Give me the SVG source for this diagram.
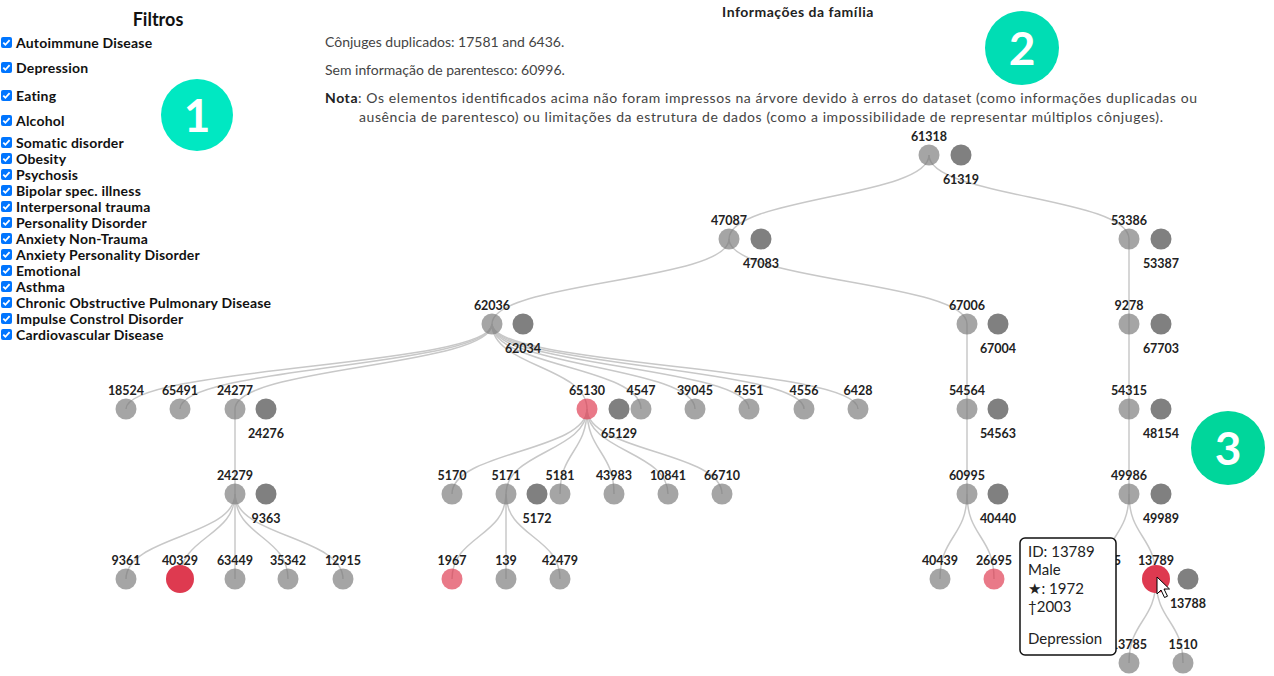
<svg xmlns="http://www.w3.org/2000/svg" xmlns:xlink="http://www.w3.org/1999/xlink" width="1274" height="676" viewBox="0 0 1274 676">
<style>
.t{font-family:Lato,"Liberation Sans",sans-serif}
.ft{font-family:Lato,"Liberation Sans",sans-serif;font-size:14px;font-weight:700;fill:#111;letter-spacing:.2px}
.hd{font-family:Lato,"Liberation Sans",sans-serif;font-size:14px;fill:#444}
.n{fill:#7b7b7b;fill-opacity:.68}
.s{fill:#808080}
.r{fill:#de3a50}
.rl{fill:#de3a50;fill-opacity:.68}
.lbl{font-family:Lato,"Liberation Sans",sans-serif;font-size:12.5px;font-weight:700;fill:#222;text-anchor:middle}
.link{fill:none;stroke:#c8c8c8;stroke-width:1.5}
.bd{font-family:Lato,"Liberation Sans",sans-serif;font-size:46px;font-weight:700;fill:#fff;text-anchor:middle}
.tt{font-family:Lato,"Liberation Sans","DejaVu Sans",sans-serif;font-size:15px;fill:#222}
</style>
<defs>
<g id="cb"><rect x="1" y="0" width="11" height="11" rx="2" fill="#0075ff"/><path d="M3.3,5.6 L5.4,7.8 L9.6,3.2" fill="none" stroke="#fff" stroke-width="1.8"/></g>
</defs>
<rect width="1274" height="676" fill="#fff"/>

<g id="filters">
<text class="t" x="158" y="26" font-size="18" font-weight="700" fill="#111" text-anchor="middle">Filtros</text>
<use href="#cb" y="37"/><text class="ft" x="16" y="48">Autoimmune Disease</text>
<use href="#cb" y="62"/><text class="ft" x="16" y="73">Depression</text>
<use href="#cb" y="90"/><text class="ft" x="16" y="101">Eating</text>
<use href="#cb" y="115"/><text class="ft" x="16" y="126">Alcohol</text>
<use href="#cb" y="137"/><text class="ft" x="16" y="148">Somatic disorder</text>
<use href="#cb" y="153"/><text class="ft" x="16" y="164">Obesity</text>
<use href="#cb" y="169"/><text class="ft" x="16" y="180">Psychosis</text>
<use href="#cb" y="185"/><text class="ft" x="16" y="196">Bipolar spec. illness</text>
<use href="#cb" y="201"/><text class="ft" x="16" y="212">Interpersonal trauma</text>
<use href="#cb" y="217"/><text class="ft" x="16" y="228">Personality Disorder</text>
<use href="#cb" y="233"/><text class="ft" x="16" y="244">Anxiety Non-Trauma</text>
<use href="#cb" y="249"/><text class="ft" x="16" y="260">Anxiety Personality Disorder</text>
<use href="#cb" y="265"/><text class="ft" x="16" y="276">Emotional</text>
<use href="#cb" y="281"/><text class="ft" x="16" y="292">Asthma</text>
<use href="#cb" y="297"/><text class="ft" x="16" y="308">Chronic Obstructive Pulmonary Disease</text>
<use href="#cb" y="313"/><text class="ft" x="16" y="324">Impulse Constrol Disorder</text>
<use href="#cb" y="329"/><text class="ft" x="16" y="340">Cardiovascular Disease</text>
</g>

<g id="info">
<text class="t" x="798" y="17" font-size="14" font-weight="700" fill="#222" text-anchor="middle" letter-spacing=".5">Informações da família</text>
<text class="hd" x="325" y="47">Cônjuges duplicados: 17581 and 6436.</text>
<text class="hd" x="325" y="75">Sem informação de parentesco: 60996.</text>
<text class="hd" x="761" y="103" text-anchor="middle" textLength="872"><tspan font-weight="700" fill="#222">Nota</tspan>: Os elementos identificados acima não foram impressos na árvore devido à erros do dataset (como informações duplicadas ou</text>
<text class="hd" x="761" y="122" text-anchor="middle" textLength="804">ausência de parentesco) ou limitações da estrutura de dados (como a impossibilidade de representar múltiplos cônjuges).</text>
</g>

<g id="badges">
<circle cx="197" cy="115" r="36" fill="#00e8c2"/><text class="bd" x="197" y="132">1</text>
<circle cx="1022" cy="48" r="37" fill="#00ddb4"/><text class="bd" x="1022" y="65">2</text>
<circle cx="1228" cy="448" r="37" fill="#00d69b"/><text class="bd" x="1228" y="465">3</text>
</g>

<g id="links">
<path class="link" d="M929,155C929,197 729,197 729,239"/>
<path class="link" d="M929,155C929,197 1129,197 1129,239"/>
<path class="link" d="M729,239C729,281.5 492,281.5 492,324"/>
<path class="link" d="M729,239C729,281.5 967,281.5 967,324"/>
<path class="link" d="M1129,239L1129,324"/>
<path class="link" d="M492,324C492,366.5 126,366.5 126,409"/>
<path class="link" d="M492,324C492,366.5 180,366.5 180,409"/>
<path class="link" d="M492,324C492,366.5 235,366.5 235,409"/>
<path class="link" d="M492,324C492,366.5 587,366.5 587,409"/>
<path class="link" d="M492,324C492,366.5 641,366.5 641,409"/>
<path class="link" d="M492,324C492,366.5 695,366.5 695,409"/>
<path class="link" d="M492,324C492,366.5 749,366.5 749,409"/>
<path class="link" d="M492,324C492,366.5 804,366.5 804,409"/>
<path class="link" d="M492,324C492,366.5 858,366.5 858,409"/>
<path class="link" d="M235,409L235,494"/>
<path class="link" d="M235,494C235,536.5 126,536.5 126,579"/>
<path class="link" d="M235,494C235,536.5 180,536.5 180,579"/>
<path class="link" d="M235,494L235,579"/>
<path class="link" d="M235,494C235,536.5 288,536.5 288,579"/>
<path class="link" d="M235,494C235,536.5 343,536.5 343,579"/>
<path class="link" d="M587,409C587,451.5 452,451.5 452,494"/>
<path class="link" d="M587,409C587,451.5 506,451.5 506,494"/>
<path class="link" d="M587,409C587,451.5 560,451.5 560,494"/>
<path class="link" d="M587,409C587,451.5 614,451.5 614,494"/>
<path class="link" d="M587,409C587,451.5 668,451.5 668,494"/>
<path class="link" d="M587,409C587,451.5 722,451.5 722,494"/>
<path class="link" d="M506,494C506,536.5 452,536.5 452,579"/>
<path class="link" d="M506,494L506,579"/>
<path class="link" d="M506,494C506,536.5 560,536.5 560,579"/>
<path class="link" d="M967,324L967,409"/>
<path class="link" d="M967,409L967,494"/>
<path class="link" d="M967,494C967,536.5 940,536.5 940,579"/>
<path class="link" d="M967,494C967,536.5 994,536.5 994,579"/>
<path class="link" d="M1129,324L1129,409"/>
<path class="link" d="M1129,409L1129,494"/>
<path class="link" d="M1129,494C1129,536.5 1102,536.5 1102,579"/>
<path class="link" d="M1129,494C1129,536.5 1156,536.5 1156,579"/>
<path class="link" d="M1156,579C1156,621 1129,621 1129,663"/>
<path class="link" d="M1156,579C1156,621 1183,621 1183,663"/>
</g>

<g id="nodes">
<g id="n61318"><circle class="n" cx="929" cy="155" r="10.5"/><text class="lbl" x="929" y="141">61318</text></g>
<g id="n61319"><circle class="s" cx="961" cy="155" r="10.5"/><text class="lbl" x="961" y="184">61319</text></g>
<g id="n47087"><circle class="n" cx="729" cy="239" r="10.5"/><text class="lbl" x="729" y="225">47087</text></g>
<g id="n47083"><circle class="s" cx="761" cy="239" r="10.5"/><text class="lbl" x="761" y="268">47083</text></g>
<g id="n53386"><circle class="n" cx="1129" cy="239" r="10.5"/><text class="lbl" x="1129" y="225">53386</text></g>
<g id="n53387"><circle class="s" cx="1161" cy="239" r="10.5"/><text class="lbl" x="1161" y="268">53387</text></g>
<g id="n62036"><circle class="n" cx="492" cy="324" r="10.5"/><text class="lbl" x="492" y="310">62036</text></g>
<g id="n62034"><circle class="s" cx="523" cy="324" r="10.5"/><text class="lbl" x="523" y="353">62034</text></g>
<g id="n67006"><circle class="n" cx="967" cy="324" r="10.5"/><text class="lbl" x="967" y="310">67006</text></g>
<g id="n67004"><circle class="s" cx="998" cy="324" r="10.5"/><text class="lbl" x="998" y="353">67004</text></g>
<g id="n9278"><circle class="n" cx="1129" cy="324" r="10.5"/><text class="lbl" x="1129" y="310">9278</text></g>
<g id="n67703"><circle class="s" cx="1161" cy="324" r="10.5"/><text class="lbl" x="1161" y="353">67703</text></g>

<g id="n18524"><circle class="n" cx="126" cy="409" r="10.5"/><text class="lbl" x="126" y="395">18524</text></g>
<g id="n65491"><circle class="n" cx="180" cy="409" r="10.5"/><text class="lbl" x="180" y="395">65491</text></g>
<g id="n24277"><circle class="n" cx="235" cy="409" r="10.5"/><text class="lbl" x="235" y="395">24277</text></g>
<g id="n24276"><circle class="s" cx="266" cy="409" r="10.5"/><text class="lbl" x="266" y="438">24276</text></g>
<g id="n65130"><circle class="rl" cx="587" cy="409" r="10.5"/><text class="lbl" x="587" y="395">65130</text></g>
<g id="n65129"><circle class="s" cx="619" cy="409" r="10.5"/><text class="lbl" x="619" y="438">65129</text></g>
<g id="n4547"><circle class="n" cx="641" cy="409" r="10.5"/><text class="lbl" x="641" y="395">4547</text></g>
<g id="n39045"><circle class="n" cx="695" cy="409" r="10.5"/><text class="lbl" x="695" y="395">39045</text></g>
<g id="n4551"><circle class="n" cx="749" cy="409" r="10.5"/><text class="lbl" x="749" y="395">4551</text></g>
<g id="n4556"><circle class="n" cx="804" cy="409" r="10.5"/><text class="lbl" x="804" y="395">4556</text></g>
<g id="n6428"><circle class="n" cx="858" cy="409" r="10.5"/><text class="lbl" x="858" y="395">6428</text></g>
<g id="n54564"><circle class="n" cx="967" cy="409" r="10.5"/><text class="lbl" x="967" y="395">54564</text></g>
<g id="n54563"><circle class="s" cx="998" cy="409" r="10.5"/><text class="lbl" x="998" y="438">54563</text></g>
<g id="n54315"><circle class="n" cx="1129" cy="409" r="10.5"/><text class="lbl" x="1129" y="395">54315</text></g>
<g id="n48154"><circle class="s" cx="1161" cy="409" r="10.5"/><text class="lbl" x="1161" y="438">48154</text></g>

<g id="n24279"><circle class="n" cx="235" cy="494" r="10.5"/><text class="lbl" x="235" y="480">24279</text></g>
<g id="n9363"><circle class="s" cx="266" cy="494" r="10.5"/><text class="lbl" x="266" y="523">9363</text></g>
<g id="n5170"><circle class="n" cx="452" cy="494" r="10.5"/><text class="lbl" x="452" y="480">5170</text></g>
<g id="n5171"><circle class="n" cx="506" cy="494" r="10.5"/><text class="lbl" x="506" y="480">5171</text></g>
<g id="n5172"><circle class="s" cx="537" cy="494" r="10.5"/><text class="lbl" x="537" y="523">5172</text></g>
<g id="n5181"><circle class="n" cx="560" cy="494" r="10.5"/><text class="lbl" x="560" y="480">5181</text></g>
<g id="n43983"><circle class="n" cx="614" cy="494" r="10.5"/><text class="lbl" x="614" y="480">43983</text></g>
<g id="n10841"><circle class="n" cx="668" cy="494" r="10.5"/><text class="lbl" x="668" y="480">10841</text></g>
<g id="n66710"><circle class="n" cx="722" cy="494" r="10.5"/><text class="lbl" x="722" y="480">66710</text></g>
<g id="n60995"><circle class="n" cx="967" cy="494" r="10.5"/><text class="lbl" x="967" y="480">60995</text></g>
<g id="n40440"><circle class="s" cx="998" cy="494" r="10.5"/><text class="lbl" x="998" y="523">40440</text></g>
<g id="n49986"><circle class="n" cx="1129" cy="494" r="10.5"/><text class="lbl" x="1129" y="480">49986</text></g>
<g id="n49989"><circle class="s" cx="1161" cy="494" r="10.5"/><text class="lbl" x="1161" y="523">49989</text></g>

<g id="n9361"><circle class="n" cx="126" cy="579" r="10.5"/><text class="lbl" x="126" y="565">9361</text></g>
<g id="n40329"><circle class="r" cx="180" cy="579" r="14"/><text class="lbl" x="180" y="565">40329</text></g>
<g id="n63449"><circle class="n" cx="235" cy="579" r="10.5"/><text class="lbl" x="235" y="565">63449</text></g>
<g id="n35342"><circle class="n" cx="288" cy="579" r="10.5"/><text class="lbl" x="288" y="565">35342</text></g>
<g id="n12915"><circle class="n" cx="343" cy="579" r="10.5"/><text class="lbl" x="343" y="565">12915</text></g>
<g id="n1967"><circle class="rl" cx="452" cy="579" r="10.5"/><text class="lbl" x="452" y="565">1967</text></g>
<g id="n139"><circle class="n" cx="506" cy="579" r="10.5"/><text class="lbl" x="506" y="565">139</text></g>
<g id="n42479"><circle class="n" cx="560" cy="579" r="10.5"/><text class="lbl" x="560" y="565">42479</text></g>
<g id="n40439"><circle class="n" cx="940" cy="579" r="10.5"/><text class="lbl" x="940" y="565">40439</text></g>
<g id="n26695"><circle class="rl" cx="994" cy="579" r="10.5"/><text class="lbl" x="994" y="565">26695</text></g>
<g id="nhidden"><circle class="n" cx="1102" cy="579" r="10.5"/><text class="lbl" x="1121" y="565" style="text-anchor:end">5</text></g>
<g id="n13789"><circle class="r" cx="1156" cy="579" r="14"/><text class="lbl" x="1156" y="565">13789</text></g>
<g id="n13788"><circle class="s" cx="1188" cy="579" r="10.5"/><text class="lbl" x="1188" y="608">13788</text></g>
<g id="n13785"><circle class="n" cx="1129" cy="663" r="10.5"/><text class="lbl" x="1129" y="649">13785</text></g>
<g id="n1510"><circle class="n" cx="1183" cy="663" r="10.5"/><text class="lbl" x="1183" y="649">1510</text></g>
</g>

<g id="tooltip">
<rect x="1020" y="538" width="96" height="117" rx="5" fill="#fff" stroke="#111" stroke-width="1.5"/>
<text class="tt" x="1028" y="557">ID: 13789</text>
<text class="tt" x="1028" y="575">Male</text>
<text class="tt" x="1028" y="594">★: 1972</text>
<text class="tt" x="1028" y="612">†2003</text>
<text class="tt" x="1028" y="644">Depression</text>
</g>

<g id="cursor" transform="translate(1157,577)">
<path d="M0,0 L0,17 L4,13 L7.5,20.5 L10.5,19.2 L7,12 L12.5,12 Z" fill="#fff" stroke="#000" stroke-width="1" stroke-linejoin="round"/>
</g>
</svg>
